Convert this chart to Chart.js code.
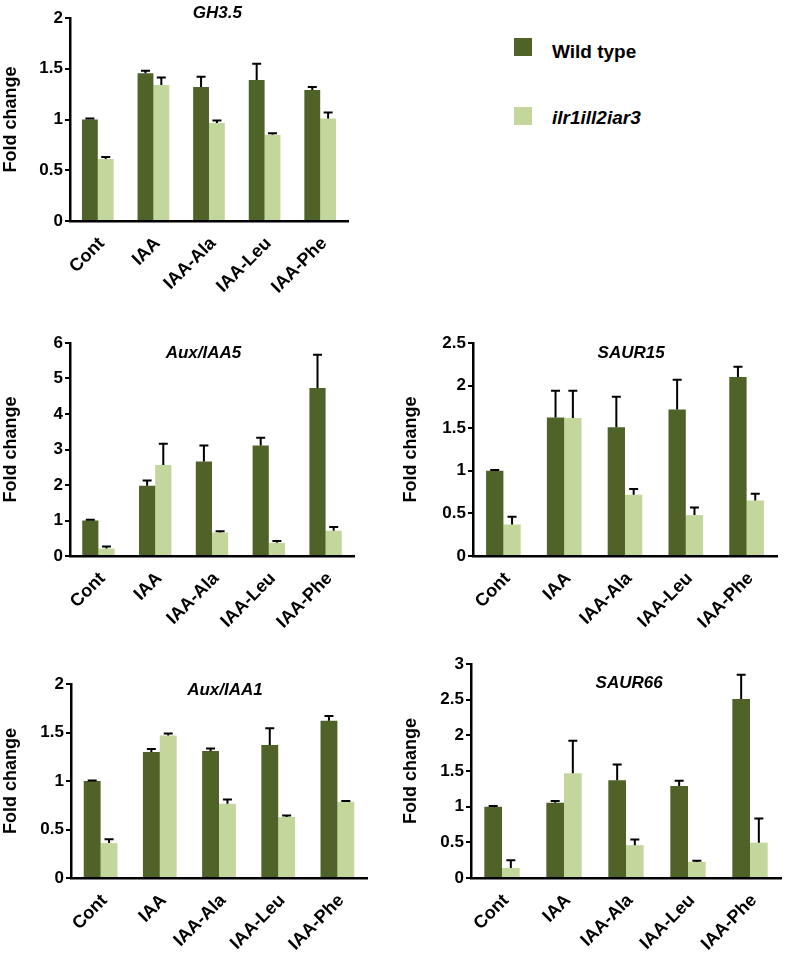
<!DOCTYPE html>
<html><head><meta charset="utf-8">
<script src="https://cdn.jsdelivr.net/npm/chart.js@4.4.1/dist/chart.umd.min.js"></script>
<style>
html,body{margin:0;padding:0;background:#fff;}
body{width:787px;height:958px;position:relative;overflow:hidden;font-family:"Liberation Sans",Arial,sans-serif;}
canvas{position:absolute;}
.lg{position:absolute;font-weight:bold;font-size:19px;color:#000;line-height:22px;}
.sw{position:absolute;width:18px;height:18px;}
</style></head><body>
<canvas id="p1" width="360" height="310" style="left:0px;top:0px"></canvas>
<canvas id="p2" width="370" height="318" style="left:0px;top:320px"></canvas>
<canvas id="p3" width="387" height="318" style="left:400px;top:320px"></canvas>
<canvas id="p4" width="380" height="318" style="left:0px;top:640px"></canvas>
<canvas id="p5" width="387" height="318" style="left:400px;top:640px"></canvas>
<div class="sw" id="sw1" style="left:514px;top:38px"></div>
<div class="lg" id="lg1" style="left:552px;top:41px"></div>
<div class="sw" id="sw2" style="left:514px;top:107px"></div>
<div class="lg" id="lg2" style="left:552px;top:107px;font-style:italic"></div>
<script>
// ---- data ----
const categories = ['Cont', 'IAA', 'IAA-Ala', 'IAA-Leu', 'IAA-Phe'];
const seriesNames = ['Wild type', 'ilr1ill2iar3'];
const geneNames = ['GH3.5', 'Aux/IAA5', 'SAUR15', 'Aux/IAA1', 'SAUR66'];
const yAxisTitle = 'Fold change';

const gh35WT      = [1.00, 1.455, 1.32, 1.39, 1.29];
const gh35WTErr   = [0.01, 0.025, 0.10, 0.16, 0.03];
const gh35Mut     = [0.61, 1.34, 0.965, 0.85, 1.01];
const gh35MutErr  = [0.02, 0.075, 0.025, 0.015, 0.06];

const iaa5WT      = [1.00, 1.98, 2.66, 3.11, 4.73];
const iaa5WTErr   = [0.02, 0.15, 0.45, 0.22, 0.94];
const iaa5Mut     = [0.21, 2.56, 0.66, 0.37, 0.71];
const iaa5MutErr  = [0.06, 0.60, 0.04, 0.05, 0.11];

const saur15WT    = [1.00, 1.625, 1.51, 1.72, 2.10];
const saur15WTErr = [0.01, 0.315, 0.36, 0.35, 0.12];
const saur15Mut   = [0.37, 1.62, 0.72, 0.48, 0.65];
const saur15MutErr= [0.09, 0.32, 0.065, 0.09, 0.08];

const iaa1WT      = [1.00, 1.30, 1.31, 1.37, 1.62];
const iaa1WTErr   = [0.005, 0.03, 0.025, 0.175, 0.05];
const iaa1Mut     = [0.36, 1.47, 0.765, 0.63, 0.785];
const iaa1MutErr  = [0.04, 0.02, 0.045, 0.015, 0.01];

const saur66WT    = [1.00, 1.056, 1.37, 1.29, 2.51];
const saur66WTErr = [0.01, 0.024, 0.22, 0.075, 0.34];
const saur66Mut   = [0.14, 1.47, 0.46, 0.225, 0.495];
const saur66MutErr= [0.11, 0.455, 0.08, 0.018, 0.34];

const yMax   = [2, 6, 2.5, 2, 3];
const yStep  = [0.5, 1, 0.5, 0.5, 0.5];

// ---- style ----
const colWT = '#4F6228';
const colMut = '#C3D69B';
const FONT = '"Liberation Sans", Arial, sans-serif';

document.getElementById('sw1').style.background = colWT;
document.getElementById('sw2').style.background = colMut;
document.getElementById('lg1').textContent = seriesNames[0];
document.getElementById('lg2').textContent = seriesNames[1];

const errorBars = {
  id: 'errorBars',
  afterDatasetsDraw(chart) {
    const ctx = chart.ctx, ys = chart.scales.y;
    ctx.save();
    ctx.strokeStyle = '#000';
    ctx.lineWidth = 2;
    chart.data.datasets.forEach((ds, di) => {
      const meta = chart.getDatasetMeta(di);
      meta.data.forEach((bar, i) => {
        const top = ys.getPixelForValue(ds.data[i] + ds.errors[i]);
        const x = bar.x;
        ctx.beginPath();
        ctx.moveTo(x, bar.y);
        ctx.lineTo(x, top);
        ctx.moveTo(x - 4.5, top);
        ctx.lineTo(x + 4.5, top);
        ctx.stroke();
      });
    });
    ctx.restore();
  }
};

const geneTitle = {
  id: 'geneTitle',
  afterDraw(chart, args, opts) {
    const a = chart.chartArea, ctx = chart.ctx;
    ctx.save();
    ctx.font = 'italic bold 17px ' + FONT;
    ctx.fillStyle = '#000';
    ctx.textAlign = 'center';
    ctx.textBaseline = 'middle';
    ctx.fillText(opts.text, a.left + opts.fx * (a.right - a.left), a.top + opts.dy);
    ctx.restore();
  }
};

function panel(id, idx, wt, wtErr, mut, mutErr, geo) {
  const cv = document.getElementById(id);
  const H = cv.height, W = cv.width;
  return new Chart(cv, {
    type: 'bar',
    data: {
      labels: categories,
      datasets: [
        { label: seriesNames[0], data: wt, errors: wtErr, backgroundColor: colWT },
        { label: seriesNames[1], data: mut, errors: mutErr, backgroundColor: colMut }
      ]
    },
    options: {
      responsive: false,
      animation: false,
      devicePixelRatio: 1,
      layout: { padding: { top: geo.top, right: W - geo.right, left: 0, bottom: 0 } },
      datasets: { bar: { categoryPercentage: 0.57, barPercentage: 1.0 } },
      plugins: {
        legend: { display: false },
        tooltip: { enabled: false },
        geneTitle: { text: geneNames[idx], fx: geo.fx, dy: geo.dy }
      },
      scales: {
        x: {
          grid: { display: false, drawTicks: false, tickLength: 0 },
          border: { display: true, color: '#000', width: 2.5 },
          ticks: { color: '#000', font: { family: FONT, size: 18, weight: 'bold' },
                   maxRotation: 45, minRotation: 45, padding: 12, labelOffset: 4, autoSkip: false },
          afterFit(s) { s.height = H - geo.bottom; }
        },
        y: {
          min: 0, max: yMax[idx],
          grid: { display: true, drawOnChartArea: false, drawTicks: true, tickLength: 5, color: '#000', tickColor: '#000', lineWidth: 2 },
          border: { display: true, color: '#000', width: 2.5 },
          ticks: { stepSize: yStep[idx], color: '#000', padding: 2,
                   callback: (v) => String(Math.round(v * 100) / 100),
                   font: { family: FONT, size: 17, weight: 'bold' } },
          title: { display: true, text: yAxisTitle, color: '#000', padding: { top: 0, bottom: 0 },
                   font: { family: FONT, size: 18, weight: 'bold' } },
          afterFit(s) { s.width = geo.left; }
        }
      }
    },
    plugins: [errorBars, geneTitle]
  });
}

panel('p1', 0, gh35WT, gh35WTErr, gh35Mut, gh35MutErr,
      { left: 70, right: 348, top: 18, bottom: 221, fx: 0.53, dy: -5 });
panel('p2', 1, iaa5WT, iaa5WTErr, iaa5Mut, iaa5MutErr,
      { left: 70, right: 354, top: 23, bottom: 236, fx: 0.47, dy: 10 });
panel('p3', 2, saur15WT, saur15WTErr, saur15Mut, saur15MutErr,
      { left: 73, right: 377, top: 23, bottom: 236, fx: 0.52, dy: 10 });
panel('p4', 3, iaa1WT, iaa1WTErr, iaa1Mut, iaa1MutErr,
      { left: 71, right: 367, top: 44, bottom: 238, fx: 0.52, dy: 6 });
panel('p5', 4, saur66WT, saur66WTErr, saur66Mut, saur66MutErr,
      { left: 71, right: 381, top: 24, bottom: 238, fx: 0.51, dy: 19 });
</script>
</body></html>
